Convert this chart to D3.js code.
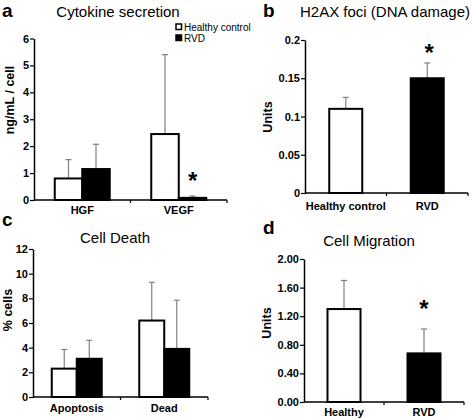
<!DOCTYPE html>
<html><head><meta charset="utf-8">
<script src="https://cdn.jsdelivr.net/npm/d3@7"></script>
<style>body{margin:0;background:#fff}svg{display:block}text{font-family:"Liberation Sans",Arial,sans-serif}</style>
</head><body><svg id="c" width="472" height="420"></svg>
<script>
// Panel a: Cytokine secretion
const aCats = ["HGF", "VEGF"];
const aHealthy = [0.8, 2.45], aHealthyErr = [0.7, 2.95];
const aRVD = [1.15, 0.08], aRVDErr = [0.92, 0.07];
const aTicks = [0,1,2,3,4,5,6];
// Panel b: H2AX foci
const bCats = ["Healthy control", "RVD"];
const bVals = [0.11, 0.15], bErr = [0.015, 0.02];
const bTicks = [0, 0.05, 0.1, 0.15, 0.2];
// Panel c: Cell Death
const cCats = ["Apoptosis", "Dead"];
const cHealthy = [2.3, 6.2], cHealthyErr = [1.55, 3.1];
const cRVD = [3.1, 3.9], cRVDErr = [1.5, 3.95];
const cTicks = [0,2,4,6,8,10,12];
// Panel d: Cell Migration
const dCats = ["Healthy", "RVD"];
const dVals = [1.3, 0.68], dErr = [0.4, 0.34];
const dTicks = [0, 0.4, 0.8, 1.2, 1.6, 2.0];

const svg = d3.select("#c");
const errColor = "#808080";

function panel(o){
  const g = svg.append("g");
  const x = d3.scaleBand().domain(o.cats).range(o.xr).padding(0);
  const y = d3.scaleLinear().domain(o.yd).range(o.yr);
  const ya = g.append("g").attr("transform",`translate(${o.xr[0]},0)`)
    .call(d3.axisLeft(y).tickValues(o.ticks).tickFormat(o.fmt).tickSize(4).tickSizeOuter(0));
  ya.select(".domain").attr("stroke","#000").attr("stroke-width",1.5);
  ya.selectAll(".tick line").attr("stroke","#000").attr("stroke-width",1.2);
  ya.selectAll(".tick text").attr("font-size",11).attr("font-weight","bold").attr("font-family","Liberation Sans, Arial, sans-serif").attr("x",-5);
  const bw = o.bw;
  o.series.forEach((s,si)=>{
    const n = o.series.length;
    o.cats.forEach((c,i)=>{
      const cx = x(c)+x.bandwidth()/2;
      const x0 = cx - n*bw/2 + si*bw;
      const top = y(s.vals[i]);
      const ex = x0 + bw/2;
      const et = y(s.vals[i]+s.err[i]);
      g.append("line").attr("x1",ex).attr("x2",ex).attr("y1",top).attr("y2",et)
        .attr("stroke",errColor).attr("stroke-width",1.2);
      g.append("line").attr("x1",ex-3).attr("x2",ex+3).attr("y1",et).attr("y2",et)
        .attr("stroke",errColor).attr("stroke-width",1.2);
      g.append("rect").attr("x",x0).attr("y",top).attr("width",bw).attr("height",y(0)-top)
        .attr("fill",Array.isArray(s.fill)?s.fill[i]:s.fill).attr("stroke","#000").attr("stroke-width",2);
    });
  });
  const xa = g.append("g").attr("transform",`translate(0,${o.yr[0]})`);
  xa.append("line").attr("x1",o.xr[0]).attr("x2",o.xr[1]).attr("stroke","#000").attr("stroke-width",1.5);
  const bounds = [o.xr[0], ...o.cats.slice(1).map(c=>x(c)), o.xr[1]];
  bounds.slice(1).forEach(b=>xa.append("line").attr("x1",b).attr("x2",b).attr("y1",0).attr("y2",3).attr("stroke","#000").attr("stroke-width",1.2));
  o.cats.forEach(c=>g.append("text").attr("x",x(c)+x.bandwidth()/2).attr("y",o.lblY)
    .attr("text-anchor","middle").attr("font-size",11).attr("font-weight","bold").text(c));
  g.append("text").attr("x",o.title[1]).attr("y",o.title[2]).attr("text-anchor","middle").attr("font-size",15).text(o.title[0]);
  g.append("text").attr("x",o.letter[1]).attr("y",o.letter[2]).attr("font-size",19).attr("font-weight","bold").text(o.letter[0]);
  g.append("text").attr("transform",`translate(${o.ylab[1]},${o.ylab[2]}) rotate(-90)`).attr("text-anchor","middle")
    .attr("font-size",12.5).attr("font-weight","bold").text(o.ylab[0]);
  (o.stars||[]).forEach(st=>{
    const cx = x(st.cat)+x.bandwidth()/2 + (st.dx||0);
    g.append("text").attr("x",cx).attr("y",y(st.v)).attr("text-anchor","middle").attr("font-size",24).attr("font-weight","bold").text("*");
  });
  return {g,x,y};
}

const pa = panel({cats:aCats, xr:[34,227], yd:[0,6], yr:[200,38.5], ticks:aTicks, fmt:d3.format("d"), bw:27.5,
  series:[{vals:aHealthy,err:aHealthyErr,fill:"#fff"},{vals:aRVD,err:aRVDErr,fill:"#000"}],
  lblY:214, title:["Cytokine secretion",118,17], letter:["a",2,17], ylab:["ng/mL / cell",14,100],
  stars:[{cat:"VEGF",v:0.42,dx:14}]});
const lg = pa.g.append("g");
[["Healthy control","#fff",31],["RVD","#000",42]].forEach(([t,f,yy])=>{
  lg.append("rect").attr("x",176).attr("y",yy-7).attr("width",5.5).attr("height",5.5).attr("fill",f).attr("stroke","#000").attr("stroke-width",1.5);
  lg.append("text").attr("x",184).attr("y",yy).attr("font-size",10).text(t);
});

panel({cats:bCats, xr:[305,468], yd:[0,0.2], yr:[193,40], ticks:bTicks, fmt:d=>d===0?"0":String(+d.toFixed(2)), bw:33,
  series:[{vals:bVals,err:bErr,fill:["#fff","#000"]}], lblY:210, title:["H2AX foci (DNA damage)",385,17], letter:["b",263,17],
  ylab:["Units",272,117], stars:[{cat:"RVD",v:0.173,dx:2}]});

panel({cats:cCats, xr:[33,208], yd:[0,12], yr:[397,249], ticks:cTicks, fmt:d3.format("d"), bw:25,
  series:[{vals:cHealthy,err:cHealthyErr,fill:"#fff"},{vals:cRVD,err:cRVDErr,fill:"#000"}],
  lblY:412, title:["Cell Death",115,243], letter:["c",2,226], ylab:["% cells",12,310]});

panel({cats:dCats, xr:[304,464], yd:[0,2], yr:[402,259], ticks:dTicks, fmt:d3.format(".2f"), bw:33,
  series:[{vals:dVals,err:dErr,fill:["#fff","#000"]}], lblY:416, title:["Cell Migration",369,246], letter:["d",263,234],
  ylab:["Units",271,323], stars:[{cat:"RVD",v:1.19}]});
</script></body></html>
